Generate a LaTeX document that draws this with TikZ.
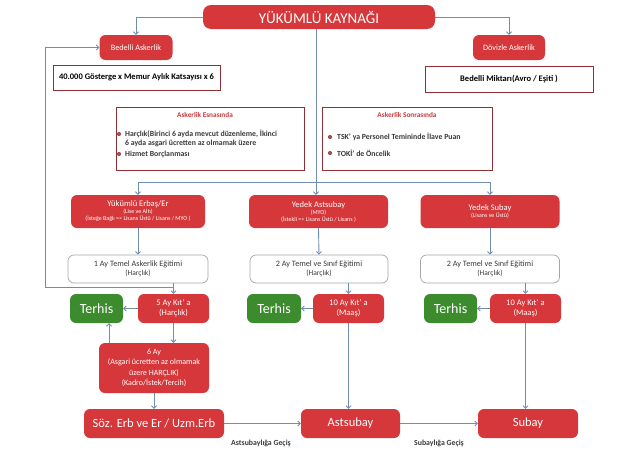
\documentclass[tikz,border=0pt]{standalone}
\usepackage{fontspec}
\setmainfont{Carlito}
\usetikzlibrary{arrows.meta}
\definecolor{kaynakred}{HTML}{D6373A}
\definecolor{terhisgreen}{HTML}{3C8C2E}
\definecolor{flowblue}{HTML}{6F8EAD}
\definecolor{borderred}{HTML}{8E2F33}
\definecolor{titlered}{HTML}{C23B3E}
\definecolor{textgray}{HTML}{3A3A3A}
\newcommand{\fsz}[2]{\fontsize{#1pt}{#2pt}\selectfont}

\begin{document}
\begin{tikzpicture}[x=1pt, y=-1pt,
    redbox/.style={rounded corners=6pt, fill=kaynakred, text=white, align=center, inner sep=0pt},
    greenbox/.style={rounded corners=6pt, fill=terhisgreen, text=white, inner sep=0pt, minimum height=29pt, font=\fsz{14}{16}},
    whitebox/.style={rounded corners=6pt, draw=gray!70, line width=0.7pt, fill=white, align=center, inner sep=0pt, text=textgray, minimum height=28pt},
    infobox/.style={draw=borderred, line width=0.7pt, inner sep=0pt},
    bullet/.style={anchor=west, inner sep=0pt, text=textgray, font=\bfseries\fsz{7.8}{9.2}},
    dot/.style={circle, fill=borderred!85, inner sep=0pt, minimum size=4.2pt},
    gecis/.style={text=textgray, font=\bfseries\fsz{7.8}{9}},
    flow/.style={draw=flowblue, line width=0.9pt},
    arr/.style={flow, -{Straight Barb[length=2.5pt,width=5pt]}}
  ]
  \useasboundingbox (0,0) rectangle (632,450);

  % Kaynak
  \node[redbox, rounded corners=8pt, minimum width=232pt, minimum height=24pt, font=\fsz{15}{18}] (kaynak) at (319,17) {YÜKÜMLÜ KAYNAĞI};

  % Bedelli / Dovizle
  \node[redbox, minimum width=73pt, minimum height=25pt, font=\fsz{8.2}{10}] (bedelli) at (136,47.5) {Bedelli Askerlik};
  \node[redbox, minimum width=72pt, minimum height=25pt, font=\fsz{8.2}{10}] (dovizle) at (509,47.5) {Dövizle Askerlik};
  \node[infobox, minimum width=167pt, minimum height=25pt, font=\bfseries\fsz{8.5}{10}] (bedelliHesap) at (136.5,77.5) {40.000 Gösterge x Memur Aylık Katsayısı x 6};
  \node[infobox, minimum width=168pt, minimum height=26pt, font=\bfseries\fsz{8.5}{10}] (dovizleHesap) at (509,79) {Bedelli Miktarı(Avro / Eşiti )};

  % Askerlik Esnasinda
  \node[infobox, minimum width=188pt, minimum height=63pt] (esnasinda) at (210,138.5) {};
  \node[text=titlered, font=\bfseries\fsz{7.3}{8.5}] (esnasindaBaslik) at (205,115) {Askerlik Esnasında};
  \node[dot] (esnasindaDot1) at (119,134) {};
  \node[bullet, anchor=north west, align=left] (harclik) at (125,129.5) {Harçlık(Birinci 6 ayda mevcut düzenleme, İkinci\\6 ayda asgari ücretten az olmamak üzere};
  \node[dot] (esnasindaDot2) at (119,154) {};
  \node[bullet] (hizmet) at (125,154) {Hizmet Borçlanması};

  % Askerlik Sonrasinda
  \node[infobox, minimum width=170pt, minimum height=63pt] (sonrasinda) at (407,138.5) {};
  \node[text=titlered, font=\bfseries\fsz{7.3}{8.5}] (sonrasindaBaslik) at (407,115) {Askerlik Sonrasında};
  \node[dot] (sonrasindaDot1) at (330,137) {};
  \node[bullet] (tsk) at (337,137) {TSK' ya Personel Temininde İlave Puan};
  \node[dot] (sonrasindaDot2) at (330,153) {};
  \node[bullet] (toki) at (337,153) {TOKİ' de Öncelik};

  % Yukumlu gruplari
  \node[redbox, minimum width=134pt, minimum height=33pt, font=\fsz{6}{7}] (erbas) at (138,211.5) {{\fsz{8.5}{10}Yükümlü Erbaş/Er}\\(Lise ve Altı)\\(İsteğe Bağlı => Lisans Üstü / Lisans / MYO )};
  \node[redbox, minimum width=139pt, minimum height=33pt, font=\fsz{6}{7}] (ystsubay) at (318.5,211.5) {{\fsz{8.5}{10}Yedek Astsubay}\\(MYO)\\(İstekli => Lisans Üstü / Lisans )};
  \node[redbox, minimum width=139pt, minimum height=33pt, font=\fsz{6}{7}] (ysubay) at (490,211.5) {{\fsz{8.5}{10}Yedek Subay}\\(Lisans ve Üstü)};

  % Egitimler
  \node[whitebox, minimum width=140pt, font=\fsz{7.5}{9}] (egitim1) at (138,269) {{\fsz{8.2}{10}1 Ay Temel Askerlik Eğitimi}\\(Harçlık)};
  \node[whitebox, minimum width=138pt, font=\fsz{7.5}{9}] (egitim2) at (319,269) {{\fsz{8.2}{10}2 Ay Temel ve Sınıf Eğitimi}\\(Harçlık)};
  \node[whitebox, minimum width=139pt, font=\fsz{7.5}{9}] (egitim3) at (490,269) {{\fsz{8.2}{10}2 Ay Temel ve Sınıf Eğitimi}\\(Harçlık)};

  % Terhis / Kita
  \node[greenbox, minimum width=53pt] (terhis1) at (96.5,308.5) {Terhis};
  \node[redbox, minimum width=71pt, minimum height=29pt, font=\fsz{8.5}{10}] (kita1) at (173.5,308.5) {5 Ay Kıt' a\\(Harçlık)};
  \node[greenbox, minimum width=54pt] (terhis2) at (274,308.5) {Terhis};
  \node[redbox, minimum width=71pt, minimum height=29pt, font=\fsz{8.5}{10}] (kita2) at (348.5,308.5) {10 Ay Kıt' a\\(Maaş)};
  \node[greenbox, minimum width=53pt] (terhis3) at (450.5,308.5) {Terhis};
  \node[redbox, minimum width=71pt, minimum height=29pt, font=\fsz{8.5}{10}] (kita3) at (525.5,308.5) {10 Ay Kıt' a\\(Maaş)};

  % 6 Ay
  \node[redbox, minimum width=110pt, minimum height=50pt, font=\fsz{8}{10.5}] (alti) at (154,368) {6 Ay\\(Asgari ücretten az olmamak\\üzere HARÇLIK)\\(Kadro/İstek/Tercih)};

  % Kadrolar
  \node[redbox, minimum width=140pt, minimum height=29pt, font=\fsz{12.5}{15}] (soz) at (154,423.5) {Söz. Erb ve Er / Uzm.Erb};
  \node[redbox, minimum width=99pt, minimum height=29pt, font=\fsz{12.5}{15}] (astsubay) at (350.5,423.5) {Astsubay};
  \node[redbox, minimum width=100pt, minimum height=29pt, font=\fsz{12.5}{15}] (subay) at (528,423.5) {Subay};
  \node[gecis] (astsubayGecis) at (261,443) {Astsubaylığa Geçiş};
  \node[gecis] (subayGecis) at (439,443) {Subaylığa Geçiş};

  % Baglantilar
  \draw[arr] (kaynak.west) -| (bedelli.north);
  \draw[arr] (kaynak.east) -| (dovizle.north);
  \coordinate (dagilim) at (316,182);
  \draw[flow] (kaynak.south -| dagilim) -- (dagilim);
  \draw[arr] (dagilim) -- (dagilim |- ystsubay.north);
  \draw[arr] (dagilim) -| (erbas.north);
  \draw[arr] (dagilim) -| (ysubay.north);

  \draw[arr] (erbas.south) -- (egitim1.north);
  \draw[arr] (ystsubay.south) -- (egitim2.north);
  \draw[arr] (ysubay.south) -- (egitim3.north);

  \draw[arr] (egitim1.south -| kita1) -- (kita1.north);
  \draw[arr] (egitim2.south -| kita2) -- (kita2.north);
  \draw[arr] (egitim3.south -| kita3) -- (kita3.north);

  \coordinate (geriDonus) at (45,287);
  \draw[arr] (kita1.north |- geriDonus) -- (geriDonus) |- (bedelli.west);

  \draw[arr] (kita1.west) -- (terhis1.east);
  \draw[arr] (kita2.west) -- (terhis2.east);
  \draw[arr] (kita3.west) -- (terhis3.east);

  \draw[arr] (kita1.south) -- (kita1.south |- alti.north);
  \draw[arr] ([xshift=-45pt]alti.north) -- ([xshift=-45pt]alti.north |- terhis1.south);
  \draw[arr] (alti.south) -- (soz.north);
  \draw[arr] (kita2.south) -- (kita2.south |- astsubay.north);
  \draw[arr] (kita3.south) -- (kita3.south |- subay.north);

  \draw[arr] (soz.east) -- (astsubay.west);
  \draw[arr] (astsubay.east) -- (subay.west);
\end{tikzpicture}
\end{document}
